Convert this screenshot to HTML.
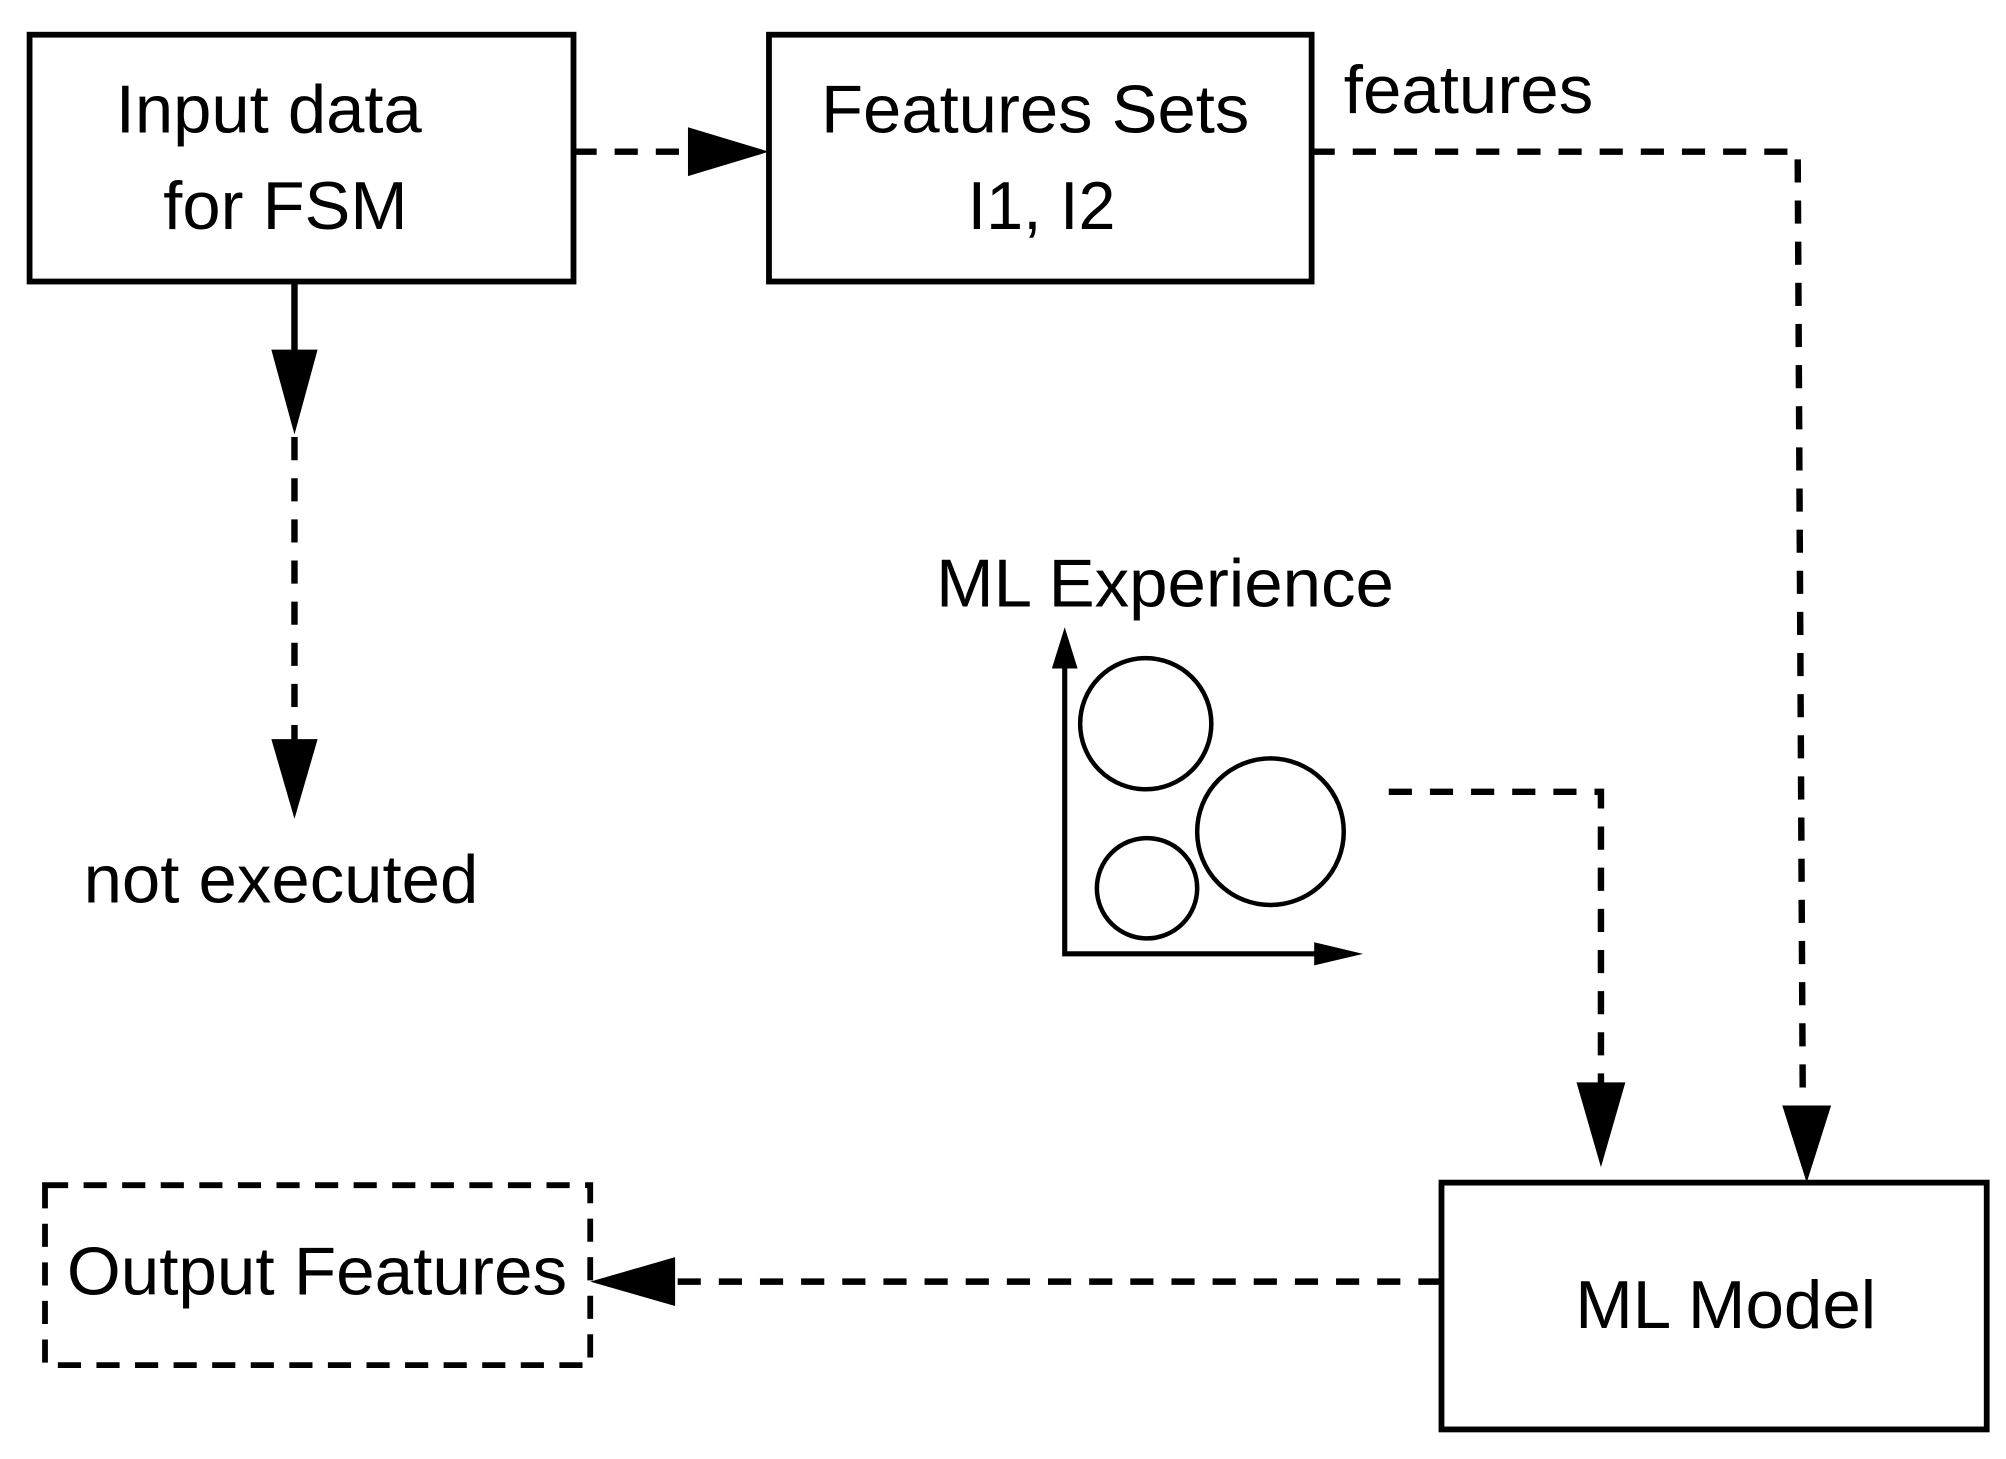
<!DOCTYPE html>
<html><head><style>html,body{margin:0;padding:0;background:#fff}svg{display:block}</style></head>
<body>
<svg width="2006" height="1459" viewBox="0 0 1560 1135" preserveAspectRatio="none" xmlns="http://www.w3.org/2000/svg" font-family="Liberation Sans, sans-serif" font-size="53">
<rect x="0" y="0" width="1560" height="1135" fill="#fff"/>
<g fill="none" stroke="#000" stroke-width="4.5">
<rect x="23" y="27" width="423" height="192"/>
<rect x="598" y="27" width="422" height="192"/>
<rect x="1121" y="920" width="424" height="192"/>
<rect x="35" y="922" width="424" height="140" stroke-dasharray="18,12"/>
</g>
<g fill="none" stroke="#000" stroke-width="5" stroke-dasharray="18,14">
<path d="M446 118 H540"/>
<path d="M1020 118 H1398 L1402 865"/>
<path d="M229 340 V578"/>
<path d="M1080 616 H1245 V845"/>
<path d="M1121 997 H520"/>
</g>
<path d="M229 219 V275" stroke="#000" stroke-width="5"/>
<g fill="#000">
<polygon points="535,99 598,118 535,137"/>
<polygon points="211,272 247,272 229,338"/>
<polygon points="211,575 247,575 229,637"/>
<polygon points="1386,860 1424,860 1405,920"/>
<polygon points="1226,842 1264,842 1245,908"/>
<polygon points="525,978 459,997 525,1016"/>
<polygon points="818,520 838,520 828,488"/>
<polygon points="1022,733 1022,751 1060,742"/>
</g>
<path d="M828 515 V742 H1025" fill="none" stroke="#000" stroke-width="4"/>
<g fill="none" stroke="#000" stroke-width="3.5">
<circle cx="891" cy="563" r="51"/>
<circle cx="988" cy="647" r="57"/>
<circle cx="892" cy="691" r="39"/>
</g>
<g fill="#000">
<text x="209" y="103" text-anchor="middle" textLength="238" lengthAdjust="spacingAndGlyphs">Input data</text>
<text x="222" y="178" text-anchor="middle" textLength="190" lengthAdjust="spacingAndGlyphs">for FSM</text>
<text x="805" y="103" text-anchor="middle" textLength="333" lengthAdjust="spacingAndGlyphs">Features Sets</text>
<text x="810" y="178" text-anchor="middle" textLength="115" lengthAdjust="spacingAndGlyphs">I1, I2</text>
<text x="1045" y="88" textLength="194" lengthAdjust="spacingAndGlyphs">features</text>
<text x="65" y="702" textLength="307" lengthAdjust="spacingAndGlyphs">not executed</text>
<text x="728" y="472" textLength="356" lengthAdjust="spacingAndGlyphs">ML Experience</text>
<text x="1342" y="1033" text-anchor="middle" textLength="234" lengthAdjust="spacingAndGlyphs">ML Model</text>
<text x="52" y="1007" textLength="389" lengthAdjust="spacingAndGlyphs">Output Features</text>
</g>
</svg>
</body></html>
